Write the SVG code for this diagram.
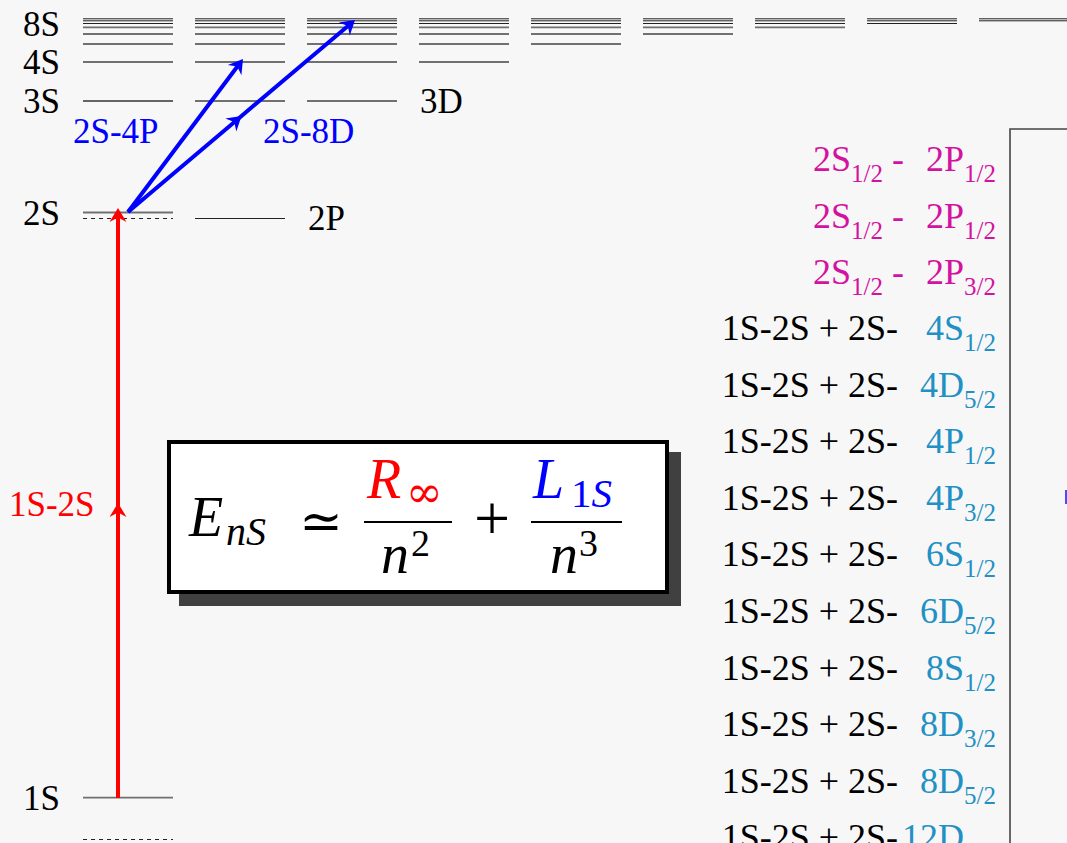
<svg xmlns="http://www.w3.org/2000/svg" width="1067" height="843" viewBox="0 0 1067 843">
<style>
.lv{stroke:#707070;stroke-width:1.8;fill:none}
.lt{stroke:#222;stroke-width:1;fill:none}
.lk{stroke:#333;stroke-width:1.3;fill:none}
.dash{stroke:#222;stroke-width:1.2;stroke-dasharray:4 4;fill:none}
.lab{font-family:'Liberation Serif','Times New Roman',Times,'DejaVu Serif',serif;font-size:35px;fill:#000}
.row{font-family:'Liberation Serif','Times New Roman',Times,'DejaVu Serif',serif;font-size:36px;fill:#000}
.pink{fill:#d3129f}
.st{fill:#2290c4}
.m{font-family:'Liberation Serif','Times New Roman',Times,'DejaVu Serif',serif;font-style:italic;font-size:56px}
.mu{font-family:'Liberation Serif','Times New Roman',Times,'DejaVu Serif',serif;font-size:38px}
</style>
<defs>
<marker id="ahR" markerUnits="userSpaceOnUse" markerWidth="30" markerHeight="30" viewBox="-15 -15 30 30" refX="0" refY="0" orient="auto">
<path d="M5,0 L-9,-8.5 L-4.5,0 L-9,8.5 Z" fill="#ff0000"/>
</marker>
<marker id="ahB" markerUnits="userSpaceOnUse" markerWidth="30" markerHeight="30" viewBox="-15 -15 30 30" refX="0" refY="0" orient="auto">
<path d="M5,0 L-9,-8.5 L-4.5,0 L-9,8.5 Z" fill="#0000ff"/>
</marker>
</defs>
<rect width="1067" height="843" fill="#f7f7f7"/>

<g id="col-S">
<line class="lk" x1="83" y1="101" x2="173" y2="101"/>
<line class="lv" x1="83" y1="62" x2="173" y2="62"/>
<line class="lv" x1="83" y1="44" x2="173" y2="44"/>
<line class="lv" x1="83" y1="34" x2="173" y2="34"/>
<line class="lv" x1="83" y1="27.3" x2="173" y2="27.3"/>
<line class="lt" x1="83" y1="23.5" x2="173" y2="23.5"/>
<line class="lt" x1="83" y1="20.8" x2="173" y2="20.8"/>
<line class="lt" x1="83" y1="18.8" x2="173" y2="18.8"/>
</g>
<g id="col-P">
<line class="lv" x1="195" y1="101" x2="285" y2="101"/>
<line class="lv" x1="195" y1="62" x2="285" y2="62"/>
<line class="lv" x1="195" y1="44" x2="285" y2="44"/>
<line class="lv" x1="195" y1="34" x2="285" y2="34"/>
<line class="lv" x1="195" y1="27.3" x2="285" y2="27.3"/>
<line class="lt" x1="195" y1="23.5" x2="285" y2="23.5"/>
<line class="lt" x1="195" y1="20.8" x2="285" y2="20.8"/>
<line class="lt" x1="195" y1="18.8" x2="285" y2="18.8"/>
</g>
<g id="col-D">
<line class="lv" x1="307" y1="101" x2="397" y2="101"/>
<line class="lv" x1="307" y1="62" x2="397" y2="62"/>
<line class="lv" x1="307" y1="44" x2="397" y2="44"/>
<line class="lv" x1="307" y1="34" x2="397" y2="34"/>
<line class="lv" x1="307" y1="27.3" x2="397" y2="27.3"/>
<line class="lt" x1="307" y1="23.5" x2="397" y2="23.5"/>
<line class="lt" x1="307" y1="20.8" x2="397" y2="20.8"/>
<line class="lt" x1="307" y1="18.8" x2="397" y2="18.8"/>
</g>
<g id="col-F">
<line class="lv" x1="419" y1="62" x2="509" y2="62"/>
<line class="lv" x1="419" y1="44" x2="509" y2="44"/>
<line class="lv" x1="419" y1="34" x2="509" y2="34"/>
<line class="lv" x1="419" y1="27.3" x2="509" y2="27.3"/>
<line class="lt" x1="419" y1="23.5" x2="509" y2="23.5"/>
<line class="lt" x1="419" y1="20.8" x2="509" y2="20.8"/>
<line class="lt" x1="419" y1="18.8" x2="509" y2="18.8"/>
</g>
<g id="col-G">
<line class="lv" x1="531" y1="44" x2="621" y2="44"/>
<line class="lv" x1="531" y1="34" x2="621" y2="34"/>
<line class="lv" x1="531" y1="27.3" x2="621" y2="27.3"/>
<line class="lt" x1="531" y1="23.5" x2="621" y2="23.5"/>
<line class="lt" x1="531" y1="20.8" x2="621" y2="20.8"/>
<line class="lt" x1="531" y1="18.8" x2="621" y2="18.8"/>
</g>
<g id="col-H">
<line class="lv" x1="643" y1="34" x2="733" y2="34"/>
<line class="lv" x1="643" y1="27.3" x2="733" y2="27.3"/>
<line class="lt" x1="643" y1="23.5" x2="733" y2="23.5"/>
<line class="lt" x1="643" y1="20.8" x2="733" y2="20.8"/>
<line class="lt" x1="643" y1="18.8" x2="733" y2="18.8"/>
</g>
<g id="col-I">
<line class="lv" x1="755" y1="27.3" x2="845" y2="27.3"/>
<line class="lt" x1="755" y1="23.5" x2="845" y2="23.5"/>
<line class="lt" x1="755" y1="20.8" x2="845" y2="20.8"/>
<line class="lt" x1="755" y1="18.8" x2="845" y2="18.8"/>
</g>
<g id="col-K">
<line class="lt" x1="867" y1="23.5" x2="957" y2="23.5"/>
<line class="lt" x1="867" y1="20.8" x2="957" y2="20.8"/>
<line class="lt" x1="867" y1="18.8" x2="957" y2="18.8"/>
</g>
<g id="col-L">
<line class="lt" x1="979" y1="20.8" x2="1069" y2="20.8"/>
<line class="lt" x1="979" y1="18.8" x2="1069" y2="18.8"/>
</g>

<g id="level-2S">
<line class="lv" x1="83" y1="212.5" x2="173" y2="212.5"/>
<line class="dash" x1="83" y1="218.5" x2="173" y2="218.5"/>
</g>
<g id="level-2P">
<line class="lt" x1="195" y1="218.5" x2="285" y2="218.5"/>
</g>
<g id="level-1S">
<line class="lv" x1="83" y1="797.7" x2="173" y2="797.7"/>
<line class="dash" x1="83" y1="839.5" x2="173" y2="839.5"/>
</g>

<g id="level-labels" font-family="Liberation Serif, Times New Roman, serif" font-size="35">
<text x="60" y="36" text-anchor="end">8S</text>
<text x="60" y="74" text-anchor="end">4S</text>
<text x="60" y="113" text-anchor="end">3S</text>
<text x="60" y="225" text-anchor="end">2S</text>
<text x="60" y="810" text-anchor="end">1S</text>
<text x="420" y="113">3D</text>
<text x="308" y="230">2P</text>
</g>

<g id="transitions">
<path d="M118,798 L118,508 L118,213" stroke="#ff0000" stroke-width="4" fill="none" marker-mid="url(#ahR)" marker-end="url(#ahR)"/>
<path d="M128,212 L240,63" stroke="#0000ff" stroke-width="4" fill="none" marker-end="url(#ahB)"/>
<path d="M128,212 L237.7,119.2 L351.2,23.2" stroke="#0000ff" stroke-width="4" fill="none" marker-mid="url(#ahB)" marker-end="url(#ahB)"/>
<text class="lab" x="9" y="516" style="fill:#ff0000">1S-2S</text>
<text class="lab" x="73" y="143" style="fill:#0000ff">2S-4P</text>
<text class="lab" x="263" y="143" style="fill:#0000ff">2S-8D</text>
</g>

<g id="formula">
<rect x="179" y="452" width="502" height="154" fill="#404040"/>
<rect x="169" y="442" width="498" height="150" fill="#ffffff" stroke="#000" stroke-width="4"/>
<text class="m" x="189" y="536">E</text>
<text class="m" x="226" y="545" style="font-size:40px">nS</text>
<text x="321" y="539" text-anchor="middle" font-family="DejaVu Serif, serif" font-size="52">≃</text>
<line x1="364" y1="522" x2="452" y2="522" stroke="#000" stroke-width="2"/>
<text class="m" x="367" y="498" style="fill:#ff0000">R</text>
<text x="406" y="507" font-family="DejaVu Serif, serif" font-size="44" fill="#ff0000">∞</text>
<text class="m" x="381" y="573">n</text>
<text class="mu" x="411" y="556">2</text>
<text x="492" y="540" text-anchor="middle" font-family="Liberation Serif, serif" font-size="64">+</text>
<line x1="531" y1="522" x2="622" y2="522" stroke="#000" stroke-width="2"/>
<text class="m" x="533" y="498" style="fill:#0000ff">L</text>
<text class="mu" x="571" y="507" style="font-size:41px;fill:#0000ff">1<tspan font-style="italic">S</tspan></text>
<text class="m" x="550" y="573">n</text>
<text class="mu" x="579" y="556">3</text>
</g>

<g id="measurements" class="row">
<text class="pink" x="904" y="171" text-anchor="end">2S<tspan font-size="25" dy="11">1/2</tspan><tspan dy="-11"> -</tspan></text>
<text class="pink" x="996" y="171" text-anchor="end">2P<tspan font-size="25" dy="11">1/2</tspan></text>
<text class="pink" x="904" y="227.5" text-anchor="end">2S<tspan font-size="25" dy="11">1/2</tspan><tspan dy="-11"> -</tspan></text>
<text class="pink" x="996" y="227.5" text-anchor="end">2P<tspan font-size="25" dy="11">1/2</tspan></text>
<text class="pink" x="904" y="284" text-anchor="end">2S<tspan font-size="25" dy="11">1/2</tspan><tspan dy="-11"> -</tspan></text>
<text class="pink" x="996" y="284" text-anchor="end">2P<tspan font-size="25" dy="11">3/2</tspan></text>

<text x="898" y="340" text-anchor="end">1S-2S + 2S-</text>
<text class="st" x="996" y="340" text-anchor="end">4S<tspan font-size="25" dy="11">1/2</tspan></text>
<text x="898" y="397" text-anchor="end">1S-2S + 2S-</text>
<text class="st" x="996" y="397" text-anchor="end">4D<tspan font-size="25" dy="11">5/2</tspan></text>
<text x="898" y="453" text-anchor="end">1S-2S + 2S-</text>
<text class="st" x="996" y="453" text-anchor="end">4P<tspan font-size="25" dy="11">1/2</tspan></text>
<text x="898" y="509.5" text-anchor="end">1S-2S + 2S-</text>
<text class="st" x="996" y="509.5" text-anchor="end">4P<tspan font-size="25" dy="11">3/2</tspan></text>
<text x="898" y="566" text-anchor="end">1S-2S + 2S-</text>
<text class="st" x="996" y="566" text-anchor="end">6S<tspan font-size="25" dy="11">1/2</tspan></text>
<text x="898" y="622.5" text-anchor="end">1S-2S + 2S-</text>
<text class="st" x="996" y="622.5" text-anchor="end">6D<tspan font-size="25" dy="11">5/2</tspan></text>
<text x="898" y="679.5" text-anchor="end">1S-2S + 2S-</text>
<text class="st" x="996" y="679.5" text-anchor="end">8S<tspan font-size="25" dy="11">1/2</tspan></text>
<text x="898" y="736" text-anchor="end">1S-2S + 2S-</text>
<text class="st" x="996" y="736" text-anchor="end">8D<tspan font-size="25" dy="11">3/2</tspan></text>
<text x="898" y="792.5" text-anchor="end">1S-2S + 2S-</text>
<text class="st" x="996" y="792.5" text-anchor="end">8D<tspan font-size="25" dy="11">5/2</tspan></text>
<text x="898" y="849" text-anchor="end">1S-2S + 2S-</text>
<text class="st" x="902" y="849">12D</text>
</g>

<g id="right-panel">
<path d="M1010,843 L1010,129 L1067,129" stroke="#444" stroke-width="1.6" fill="none"/>
<rect x="1065" y="490" width="2" height="14" fill="#4a4aff"/>
</g>
</svg>
